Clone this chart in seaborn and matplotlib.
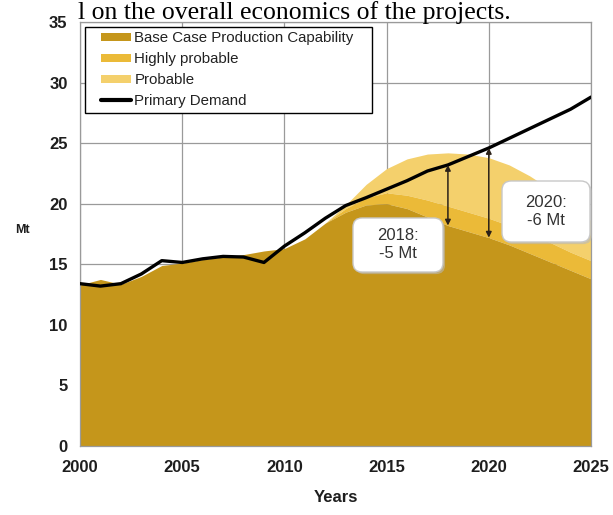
import numpy as np
import pandas as pd
import matplotlib
matplotlib.use("Agg")
import matplotlib.pyplot as plt
from matplotlib.patches import Patch, FancyBboxPatch, Rectangle
from matplotlib.lines import Line2D
import seaborn as sns

# ---------------- data ----------------
years = list(range(2000, 2026))
base_case = [13.3, 13.75, 13.35, 14.0, 14.9, 15.1, 15.4, 15.6, 15.8, 16.1,
             16.3, 17.1, 18.4, 19.3, 19.9, 20.0, 19.6, 18.9, 18.2, 17.7,
             17.2, 16.6, 15.9, 15.2, 14.5, 13.8]
highly_probable = [0, 0, 0, 0, 0, 0, 0, 0, 0, 0,
                   0, 0, 0, 0.3, 0.6, 0.9, 1.1, 1.4, 1.6, 1.6,
                   1.6, 1.6, 1.6, 1.6, 1.5, 1.5]
probable = [0, 0, 0, 0, 0, 0, 0, 0, 0, 0,
            0, 0, 0, 0.3, 1.1, 2.0, 3.0, 3.8, 4.4, 4.8,
            5.0, 5.0, 4.8, 4.4, 3.9, 3.3]
primary_demand = [13.4, 13.2, 13.4, 14.2, 15.3, 15.15, 15.45, 15.65, 15.6, 15.15,
                  16.5, 17.6, 18.8, 19.85, 20.5, 21.2, 21.9, 22.7, 23.2, 23.9,
                  24.6, 25.4, 26.2, 27.0, 27.8, 28.8]
series_labels = ["Base Case Production Capability", "Highly probable", "Probable",
                 "Primary Demand"]
gap_years = [2018, 2020]
gap_labels = ["2018:\n-5 Mt", "2020:\n-6 Mt"]
x_ticks = [2000, 2005, 2010, 2015, 2020, 2025]
y_ticks = [0, 5, 10, 15, 20, 25, 30, 35]
header_text = "l on the overall economics of the projects."

# ---------------- style ----------------
sns.set_style("white")
plt.rcParams["font.family"] = ["Liberation Sans", "DejaVu Sans"]

c_base = "#C5961B"
c_hp = "#EBBA38"
c_prob = "#F4D06C"
grid_c = "#9A9A9A"

df = pd.DataFrame({"year": years, "base": base_case, "hp": highly_probable,
                   "prob": probable, "demand": primary_demand})
df["hp_top"] = df["base"] + df["hp"]
df["prob_top"] = df["hp_top"] + df["prob"]

W, H = 613, 515
fig = plt.figure(figsize=(W / 100, H / 100), dpi=100)
L, R, T, B = 80, 591, 22, 446
ax = fig.add_axes([L / W, 1 - B / H, (R - L) / W, (B - T) / H])

ax.fill_between(df["year"], df["hp_top"], df["prob_top"], color=c_prob, lw=0, zorder=2)
ax.fill_between(df["year"], df["base"], df["hp_top"], color=c_hp, lw=0, zorder=2)
ax.fill_between(df["year"], 0, df["base"], color=c_base, lw=0, zorder=2)
sns.lineplot(data=df, x="year", y="demand", color="black", lw=2.4, ax=ax, zorder=4,
             legend=False)

ax.set_xlim(2000, 2025)
ax.set_ylim(0, 35)
ax.set_xticks(x_ticks)
ax.set_yticks(y_ticks)
ax.grid(True, color=grid_c, lw=0.9)
ax.set_axisbelow(True)
for s in ax.spines.values():
    s.set_color(grid_c)
    s.set_linewidth(0.9)
ax.tick_params(axis="both", direction="out", length=5, width=0.9, color=grid_c,
               labelsize=12, labelcolor="#1e1e1e")
ax.tick_params(axis="x", pad=5)
ax.tick_params(axis="y", pad=4)
for lab in ax.get_xticklabels() + ax.get_yticklabels():
    lab.set_fontweight("bold")
ax.set_xlabel("Years", fontsize=12, fontweight="bold", color="#1e1e1e", labelpad=11)
ax.set_ylabel("")
fig.text(22 / W, 1 - 230 / H, "Mt", fontsize=9, fontweight="bold", color="#1e1e1e",
         ha="center", va="center")

# ---------------- gap arrows ----------------
for yr in gap_years:
    row = df[df["year"] == yr].iloc[0]
    ax.annotate("", xy=(yr, row["base"]), xytext=(yr, row["demand"]),
                arrowprops=dict(arrowstyle="<|-|>", color="#2b2118", lw=1.1,
                                mutation_scale=8, shrinkA=0, shrinkB=0), zorder=5)

# ---------------- annotation boxes (pixel-positioned) ----------------
def px_box(x0, y0, x1, y1, text):
    ax0 = (x0 - L) / (R - L)
    ay0 = (B - y1) / (B - T)
    w = (x1 - x0) / (R - L)
    h = (y1 - y0) / (B - T)
    sh = FancyBboxPatch((ax0 + 0.004, ay0 - 0.005), w, h,
                        boxstyle="round,pad=0,rounding_size=0.018",
                        mutation_aspect=(R - L) / (B - T),
                        transform=ax.transAxes, fc="#b9b9b9", ec="none", alpha=0.6,
                        zorder=6, clip_on=False)
    bx = FancyBboxPatch((ax0, ay0), w, h, boxstyle="round,pad=0,rounding_size=0.018",
                        mutation_aspect=(R - L) / (B - T),
                        transform=ax.transAxes, fc="white", ec="#c8c8c8", lw=1.0,
                        zorder=7, clip_on=False)
    ax.add_patch(sh)
    ax.add_patch(bx)
    ax.text(ax0 + w / 2, ay0 + h / 2, text, transform=ax.transAxes, ha="center",
            va="center", fontsize=12, color="#333333", linespacing=1.25, zorder=8)

px_box(353, 218, 443, 272, gap_labels[0])
px_box(502, 181, 590, 242, gap_labels[1])

# ---------------- legend ----------------
fx0 = (84.5 - L) / (R - L)
fy0 = (B - 112.7) / (B - T)
fw = (371.7 - 84.5) / (R - L)
fh = (112.7 - 26.7) / (B - T)
ax.add_patch(Rectangle((fx0, fy0), fw, fh, transform=ax.transAxes, fc="white",
                       ec="black", lw=1.0, zorder=9))
handles = [Patch(fc=c_base, ec="none"), Patch(fc=c_hp, ec="none"),
           Patch(fc=c_prob, ec="none"), Line2D([], [], color="black", lw=3)]
leg = ax.legend(handles, series_labels, loc="upper left",
                bbox_to_anchor=((101 - L) / (R - L), (B - 31) / (B - T)),
                frameon=False, borderpad=0, borderaxespad=0, fontsize=10.8,
                handlelength=2.0, handleheight=0.45, handletextpad=0.22,
                labelspacing=0.47)
leg.set_zorder(10)
for t in leg.get_texts():
    t.set_color("#222222")

fig.text(78 / W, 1 - 19 / H, header_text, family=["Liberation Serif", "DejaVu Serif"],
         fontsize=18.5, va="baseline", ha="left", color="black")

fig.savefig("out.png", dpi=100)
